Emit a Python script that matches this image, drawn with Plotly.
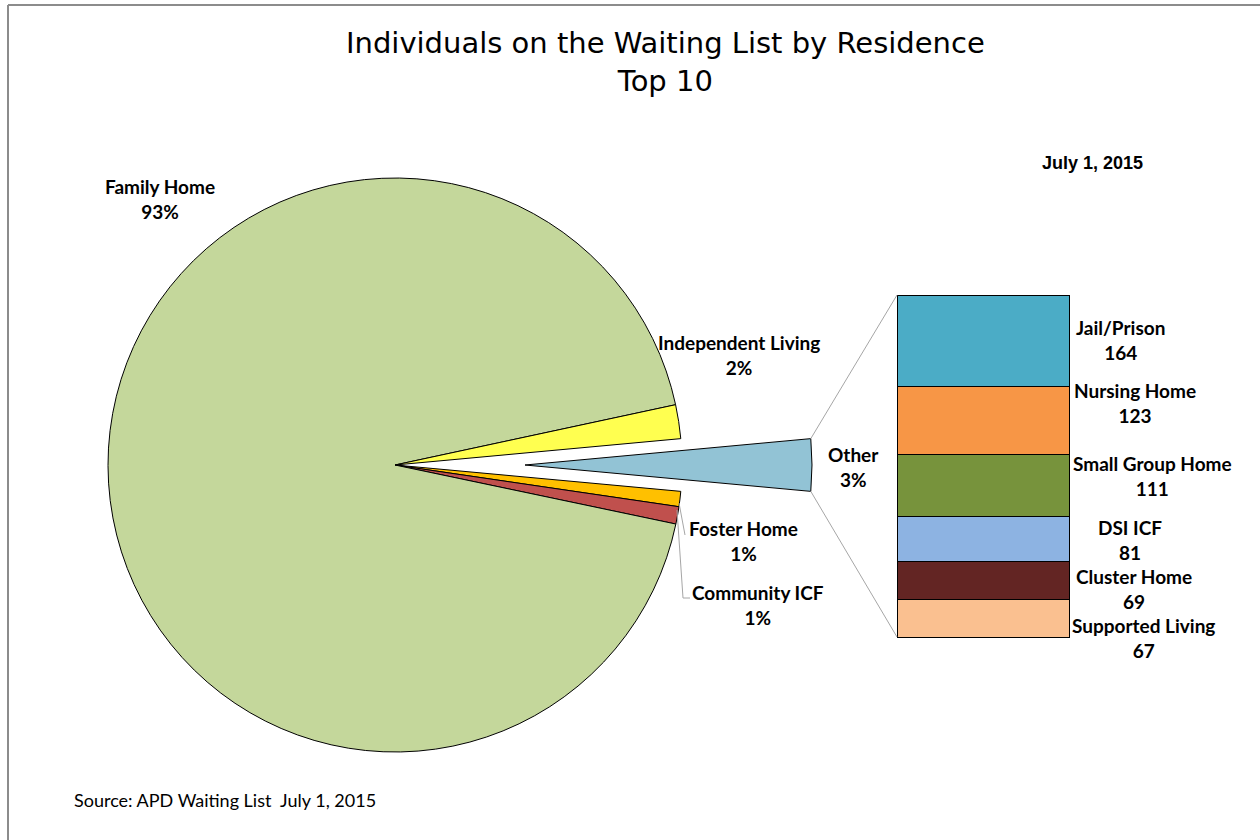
import math
import plotly.graph_objects as go

# ---------------- data ----------------
pie_labels = ["Other", "Foster Home", "Community ICF", "Family Home", "Independent Living"]
pie_values = [615, 180, 205, 19600, 400]
pie_colors = ["#92C3D5", "#FFC000", "#C0504D", "#C4D79B", "#FFFF50"]

bar_labels = ["Supported Living", "Cluster Home", "DSI ICF", "Small Group Home", "Nursing Home", "Jail/Prison"]
bar_values = [67, 69, 81, 111, 123, 164]
bar_colors = ["#FAC090", "#632523", "#8DB3E2", "#77933C", "#F79646", "#4BACC6"]

title_lines = ["Individuals on the Waiting List by Residence", "Top 10"]
date_label = "July 1, 2015"
source_label = "Source: APD Waiting List  July 1, 2015"

W, H = 1260, 840

def px(x):
    return x / W

def py(y):
    return 1 - y / H

# pie geometry (layout)
cx, cy, R = 395, 465, 287
explode = 130

total = sum(pie_values)
other_idx = pie_labels.index("Other")
rotation = 90 - 180 * pie_values[other_idx] / total

fig = go.Figure()

# main pie (Other slice hidden)
fig.add_trace(go.Pie(
    labels=pie_labels, values=pie_values, sort=False, direction="clockwise",
    rotation=rotation,
    marker=dict(colors=[("rgba(0,0,0,0)" if i == other_idx else c) for i, c in enumerate(pie_colors)],
                line=dict(color="#000000", width=[0 if i == other_idx else 1 for i in range(len(pie_labels))])),
    textinfo="none", hoverinfo="skip", showlegend=False,
    domain=dict(x=[px(cx - R), px(cx + R)], y=[py(cy + R), py(cy - R)]),
))
# exploded Other slice
fig.add_trace(go.Pie(
    labels=pie_labels, values=pie_values, sort=False, direction="clockwise",
    rotation=rotation,
    marker=dict(colors=[(c if i == other_idx else "rgba(0,0,0,0)") for i, c in enumerate(pie_colors)],
                line=dict(color="#000000", width=[1 if i == other_idx else 0 for i in range(len(pie_labels))])),
    textinfo="none", hoverinfo="skip", showlegend=False,
    domain=dict(x=[px(cx + explode - R), px(cx + explode + R)], y=[py(cy + R), py(cy - R)]),
))

# stacked bar
bx0, bx1, by0, by1 = 897, 1069, 295, 637
pad = 3  # pixels of room so outlines are not clipped
for lab, val, col in zip(bar_labels, bar_values, bar_colors):
    fig.add_trace(go.Bar(
        x=[0], y=[val], width=[1], name=lab, marker=dict(color=col, line=dict(color="#000000", width=1)),
        xaxis="x", yaxis="y", hoverinfo="skip", showlegend=False,
    ))

bar_total = sum(bar_values)
ux = 1.0 / (bx1 - bx0)             # x units per pixel
uy = bar_total / (by1 - by0)       # y units per pixel
fig.update_layout(
    barmode="stack",
    xaxis=dict(domain=[px(bx0 - pad), px(bx1 + pad)], range=[-0.5 - pad * ux, 0.5 + pad * ux],
               visible=False, fixedrange=True),
    yaxis=dict(domain=[py(by1 + pad), py(by0 - pad)], range=[-pad * uy, bar_total + pad * uy],
               visible=False, fixedrange=True),
)

# connector lines from Other slice to bar
half = math.pi * pie_values[other_idx] / total
ocx = cx + explode
top_pt = (ocx + R * math.cos(half), cy - R * math.sin(half))
bot_pt = (ocx + R * math.cos(half), cy + R * math.sin(half))
shapes = [
    dict(type="line", xref="paper", yref="paper", x0=px(top_pt[0]), y0=py(top_pt[1]),
         x1=px(bx0), y1=py(by0), line=dict(color="#A6A6A6", width=1)),
    dict(type="line", xref="paper", yref="paper", x0=px(bot_pt[0]), y0=py(bot_pt[1]),
         x1=px(bx0), y1=py(by1), line=dict(color="#A6A6A6", width=1)),
    # leader lines
    dict(type="line", xref="paper", yref="paper", x0=px(679), y0=py(503), x1=px(685), y1=py(535),
         line=dict(color="#A6A6A6", width=1)),
    dict(type="path", xref="paper", yref="paper",
         path=f"M {px(677)},{py(510)} L {px(683)},{py(598)} L {px(690)},{py(598)}",
         line=dict(color="#A6A6A6", width=1)),
    # chart frame
    dict(type="line", xref="paper", yref="paper", x0=px(8), y0=py(5), x1=1.0, y1=py(5),
         line=dict(color="#8C8C8C", width=2)),
    dict(type="line", xref="paper", yref="paper", x0=px(8), y0=py(5), x1=px(8), y1=0.0,
         line=dict(color="#8C8C8C", width=2)),
]

lab_font = dict(family="Lato, Carlito, Calibri, sans-serif", size=19, color="#000000")
annotations = []

pie_label_pos = {
    "Family Home": (160, 199),
    "Independent Living": (739, 355),
    "Other": (853, 467),
    "Foster Home": (743, 541),
    "Community ICF": (758, 605),
}
for lab, val in zip(pie_labels, pie_values):
    x, y = pie_label_pos[lab]
    annotations.append(dict(x=px(x), y=py(y), xref="paper", yref="paper", showarrow=False,
                            text=f"<b>{lab}<br>{round(100 * val / total)}%</b>", font=lab_font,
                            xanchor="center", yanchor="middle", align="center"))

bar_label_pos = {
    "Jail/Prison": (1120, 340),
    "Nursing Home": (1135, 403),
    "Small Group Home": (1152, 476),
    "DSI ICF": (1130, 540),
    "Cluster Home": (1134, 589),
    "Supported Living": (1143, 638),
}
for lab, val in zip(bar_labels, bar_values):
    x, y = bar_label_pos[lab]
    annotations.append(dict(x=px(x), y=py(y), xref="paper", yref="paper", showarrow=False,
                            text=f"<b>{lab}<br>{val}</b>", font=lab_font,
                            xanchor="center", yanchor="middle", align="center"))

annotations.append(dict(x=px(665), y=py(62), xref="paper", yref="paper", showarrow=False,
                        text="<br>".join(title_lines),
                        font=dict(family="DejaVu Sans, Verdana, sans-serif", size=29, color="#000000"),
                        xanchor="center", yanchor="middle", align="center"))
annotations.append(dict(x=px(1092), y=py(163), xref="paper", yref="paper", showarrow=False,
                        text=f"<b>{date_label}</b>",
                        font=dict(family="Liberation Sans, Arial, sans-serif", size=18, color="#000000"),
                        xanchor="center", yanchor="middle"))
annotations.append(dict(x=px(72), y=py(800), xref="paper", yref="paper", showarrow=False,
                        text=source_label,
                        font=dict(family="Lato, Carlito, Calibri, sans-serif", size=18, color="#000000"),
                        xanchor="left", yanchor="middle"))

fig.update_layout(
    width=W, height=H, autosize=False,
    margin=dict(l=0, r=0, t=0, b=0, pad=0),
    paper_bgcolor="#FFFFFF", plot_bgcolor="rgba(0,0,0,0)",
    shapes=shapes, annotations=annotations, showlegend=False,
)

fig.write_html("out.html", config={"displayModeBar": False},
               post_script="document.body.style.margin='0';document.body.style.overflow='hidden';")
